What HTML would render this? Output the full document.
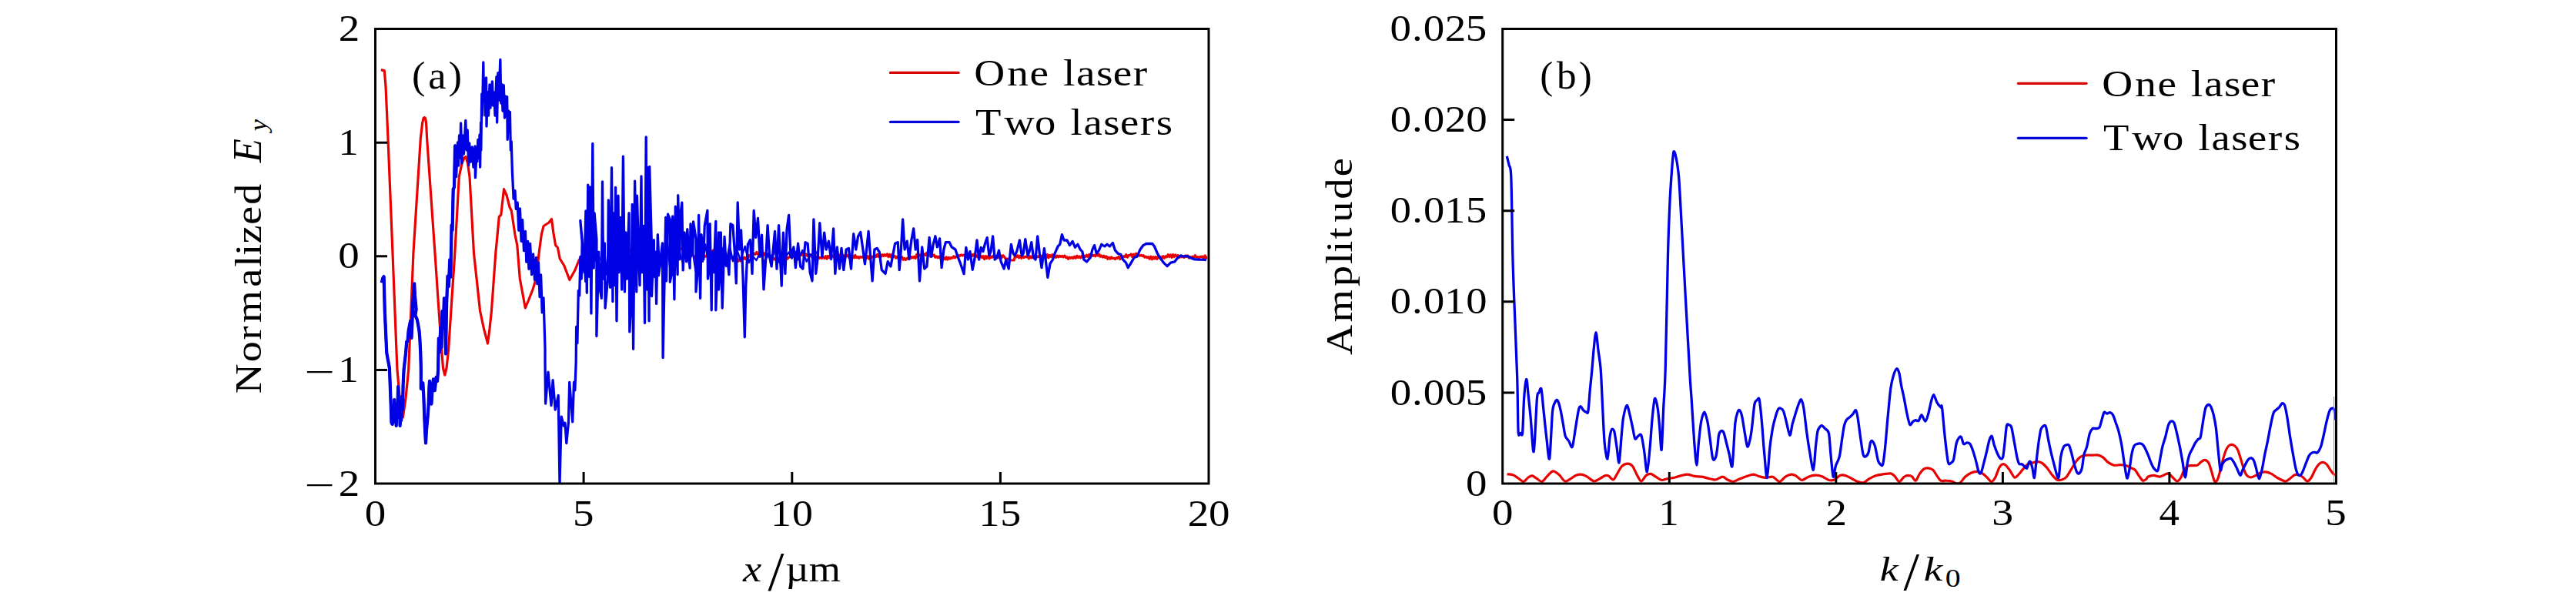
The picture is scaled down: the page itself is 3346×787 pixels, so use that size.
<!DOCTYPE html>
<html lang="en"><head><meta charset="utf-8"><title>Figure</title>
<style>html,body{margin:0;padding:0;background:#fff;overflow:hidden}svg{display:block}text{font-family:"Liberation Serif",serif;fill:#000}</style></head><body>
<svg width="3346" height="787" viewBox="0 0 3346 787">
<rect width="3346" height="787" fill="#fff"/>
<clipPath id="ca"><rect x="489" y="39" width="1079.5" height="589"/></clipPath>
<filter id="bl" x="-2%" y="-2%" width="104%" height="104%"><feGaussianBlur stdDeviation="0.6"/></filter>
<g clip-path="url(#ca)"><g filter="url(#bl)">
<path d="M494.9 90.6 L499.3 91.9 L501.0 112.0 L504.0 180.0 L510.0 329.0 L515.9 479.0 L519.5 520.0 L523.3 541.9 L527.0 517.0 L530.7 480.0 L536.9 329.0 L546.3 180.0 L548.6 160.0 L550.0 153.5 L551.3 152.5 L552.6 153.5 L553.6 160.0 L554.6 180.0 L565.0 329.0 L572.5 440.0 L575.5 478.0 L577.8 487.0 L580.0 478.0 L582.5 455.0 L590.8 329.0 L596.3 229.5 L600.0 212.0 L603.0 205.0 L605.0 203.5 L607.5 212.0 L610.0 229.5 L615.5 329.0 L623.6 404.0 L628.5 427.0 L633.5 446.0 L636.0 427.0 L638.4 404.0 L643.8 329.0 L648.3 281.5 L650.8 279.0 L654.5 245.6 L658.2 254.0 L662.0 269.0 L664.4 274.0 L669.0 305.0 L671.8 318.6 L675.3 362.0 L679.0 382.0 L682.3 400.0 L686.5 390.0 L692.0 376.0 L696.3 362.0 L700.5 325.6 L703.3 304.7 L706.1 293.5 L713.0 289.0 L716.5 284.5 L718.8 302.0 L721.6 318.5 L724.4 321.5 L727.2 336.0 L732.8 345.0 L739.8 363.5 L746.8 351.0 L752.0 338.0 L757.0 330.0 L763.0 322.0 L769.0 318.0 L774.0 326.0 L779.0 336.0 L785.0 341.0 L790.0 344.0 L796.0 340.0 L802.0 334.0 L808.0 328.0 L815.0 324.0 L822.0 326.0 L829.0 332.0 L836.0 338.0 L843.0 340.0 L850.0 338.0 L857.0 334.0 L864.0 330.0 L872.0 326.0 L880.0 324.0 L888.6 322.0 L895.0 328.0 L903.0 334.0 L910.0 336.0 L918.0 332.0 L926.5 325.0 L934.0 330.0 L942.0 335.0 L946.0 333.7 L947.6 333.4 L949.2 335.8 L950.8 333.3 L952.4 336.3 L954.0 335.0 L955.6 338.3 L957.2 335.7 L958.8 339.3 L960.4 336.6 L962.0 339.0 L963.6 336.8 L965.2 336.9 L966.8 334.3 L968.4 336.2 L970.0 333.9 L971.6 334.8 L973.2 331.4 L974.8 333.7 L976.4 329.8 L978.0 331.6 L979.6 329.1 L981.2 330.2 L982.8 327.5 L984.4 330.1 L986.0 328.6 L987.6 329.9 L989.2 327.0 L990.8 329.7 L992.4 328.9 L994.0 332.0 L995.6 330.1 L997.2 333.0 L998.8 331.6 L1000.4 334.7 L1002.0 332.0 L1003.6 336.9 L1005.2 335.2 L1006.8 337.3 L1008.4 334.6 L1010.0 337.2 L1011.6 334.9 L1013.2 337.5 L1014.8 335.3 L1016.4 337.2 L1018.0 335.0 L1019.6 338.2 L1021.2 334.0 L1022.8 336.2 L1024.4 334.2 L1026.0 334.0 L1027.6 331.3 L1029.2 333.5 L1030.8 329.8 L1032.4 332.4 L1034.0 330.4 L1035.6 332.0 L1037.2 330.1 L1038.8 332.6 L1040.4 329.6 L1042.0 331.5 L1043.6 328.7 L1045.2 331.0 L1046.8 330.0 L1048.4 332.2 L1050.0 330.4 L1051.6 332.9 L1053.2 330.6 L1054.8 334.4 L1056.4 332.2 L1058.0 334.6 L1059.6 333.3 L1061.2 335.6 L1062.8 333.1 L1064.4 335.4 L1066.0 334.5 L1067.6 335.5 L1069.2 333.8 L1070.8 335.3 L1072.4 332.7 L1074.0 336.2 L1075.6 332.4 L1077.2 334.6 L1078.8 332.1 L1080.4 333.9 L1082.0 332.0 L1083.6 335.0 L1085.2 331.9 L1086.8 333.3 L1088.4 331.5 L1090.0 332.6 L1091.6 330.6 L1093.2 334.4 L1094.8 331.5 L1096.4 334.3 L1098.0 331.1 L1099.6 332.9 L1101.2 331.3 L1102.8 334.6 L1104.4 331.7 L1106.0 333.6 L1107.6 332.4 L1109.2 334.9 L1110.8 331.4 L1112.4 334.7 L1114.0 333.5 L1115.6 335.3 L1117.2 333.4 L1118.8 334.2 L1120.4 333.3 L1122.0 334.9 L1123.6 333.6 L1125.2 335.0 L1126.8 332.6 L1128.4 336.1 L1130.0 332.2 L1131.6 335.1 L1133.2 333.1 L1134.8 333.8 L1136.4 331.3 L1138.0 333.5 L1139.6 330.3 L1141.2 333.2 L1142.8 330.7 L1144.4 333.4 L1146.0 330.6 L1147.6 332.5 L1149.2 330.6 L1150.8 332.2 L1152.4 329.9 L1154.0 333.5 L1155.6 330.5 L1157.2 333.8 L1158.8 330.5 L1160.4 333.3 L1162.0 332.5 L1163.6 335.1 L1165.2 333.5 L1166.8 335.7 L1168.4 333.3 L1170.0 336.1 L1171.6 333.6 L1173.2 337.4 L1174.8 335.4 L1176.4 337.4 L1178.0 335.4 L1179.6 335.9 L1181.2 333.5 L1182.8 335.5 L1184.4 333.5 L1186.0 334.9 L1187.6 333.1 L1189.2 335.5 L1190.8 330.5 L1192.4 333.2 L1194.0 331.0 L1195.6 331.8 L1197.2 329.9 L1198.8 331.0 L1200.4 330.0 L1202.0 331.5 L1203.6 328.4 L1205.2 331.8 L1206.8 328.1 L1208.4 333.0 L1210.0 329.5 L1211.6 332.3 L1213.2 330.9 L1214.8 334.2 L1216.4 332.9 L1218.0 334.8 L1219.6 333.1 L1221.2 334.9 L1222.8 334.5 L1224.4 336.5 L1226.0 334.7 L1227.6 336.9 L1229.2 333.8 L1230.8 337.0 L1232.4 334.4 L1234.0 336.1 L1235.6 334.5 L1237.2 335.2 L1238.8 332.9 L1240.4 334.7 L1242.0 333.1 L1243.6 333.9 L1245.2 331.6 L1246.8 332.4 L1248.4 330.9 L1250.0 332.0 L1251.6 331.1 L1253.2 332.7 L1254.8 329.3 L1256.4 331.9 L1258.0 329.6 L1259.6 332.3 L1261.2 330.3 L1262.8 332.4 L1264.4 330.3 L1266.0 332.9 L1267.6 331.3 L1269.2 333.7 L1270.8 332.6 L1272.4 334.2 L1274.0 332.4 L1275.6 334.7 L1277.2 332.4 L1278.8 336.7 L1280.4 332.6 L1282.0 335.4 L1283.6 332.7 L1285.2 335.8 L1286.8 332.8 L1288.4 334.4 L1290.0 332.3 L1291.6 333.9 L1293.2 332.5 L1294.8 334.9 L1296.4 332.4 L1298.0 335.1 L1299.6 331.7 L1301.2 334.5 L1302.8 331.7 L1304.4 333.2 L1306.0 336.0 L1307.6 336.0 L1309.2 336.0 L1310.8 337.5 L1312.4 337.5 L1314.0 338.0 L1315.6 338.0 L1317.2 338.0 L1318.8 331.1 L1320.4 333.7 L1322.0 331.8 L1323.6 334.8 L1325.2 332.5 L1326.8 335.3 L1328.4 332.2 L1330.0 334.6 L1331.6 333.1 L1333.2 333.8 L1334.8 333.2 L1336.4 335.8 L1338.0 332.6 L1339.6 335.0 L1341.2 332.8 L1342.8 334.7 L1344.4 332.0 L1346.0 334.9 L1347.6 332.8 L1349.2 333.5 L1350.8 332.2 L1352.4 334.4 L1354.0 331.9 L1355.6 333.7 L1357.2 332.6 L1358.8 335.2 L1360.4 330.6 L1362.0 334.8 L1363.6 331.4 L1365.2 333.6 L1366.8 330.7 L1368.4 333.0 L1370.0 332.5 L1371.6 334.4 L1373.2 332.0 L1374.8 333.9 L1376.4 332.2 L1378.0 333.5 L1379.6 332.3 L1381.2 333.9 L1382.8 331.9 L1384.4 334.5 L1386.0 333.9 L1387.6 336.4 L1389.2 334.1 L1390.8 335.3 L1392.4 334.1 L1394.0 335.4 L1395.6 333.3 L1397.2 335.2 L1398.8 332.2 L1400.4 334.5 L1402.0 332.9 L1403.6 334.9 L1405.2 332.4 L1406.8 334.7 L1408.4 332.2 L1410.0 333.5 L1411.6 331.3 L1413.2 333.6 L1414.8 330.5 L1416.4 333.0 L1418.0 330.3 L1419.6 332.4 L1421.2 331.3 L1422.8 332.7 L1424.4 330.7 L1426.0 332.1 L1427.6 330.0 L1429.2 333.4 L1430.8 331.9 L1432.4 334.0 L1434.0 332.3 L1435.6 334.5 L1437.2 332.9 L1438.8 336.3 L1440.4 334.3 L1442.0 336.2 L1443.6 334.0 L1445.2 335.5 L1446.8 335.3 L1448.4 336.6 L1450.0 334.8 L1451.6 335.4 L1453.2 333.3 L1454.8 336.6 L1456.4 333.9 L1458.0 334.1 L1459.6 332.7 L1461.2 333.6 L1462.8 330.6 L1464.4 334.2 L1466.0 331.7 L1467.6 331.7 L1469.2 330.0 L1470.8 333.5 L1472.4 330.1 L1474.0 332.4 L1475.6 329.1 L1477.2 332.7 L1478.8 331.0 L1480.4 332.3 L1482.0 331.2 L1483.6 332.7 L1485.2 331.7 L1486.8 334.0 L1488.4 333.1 L1490.0 334.7 L1491.6 333.6 L1493.2 336.2 L1494.8 333.1 L1496.4 336.8 L1498.0 333.6 L1499.6 336.0 L1501.2 333.5 L1502.8 336.4 L1504.4 333.1 L1506.0 335.0 L1507.6 333.4 L1509.2 335.7 L1510.8 332.7 L1512.4 335.2 L1514.0 332.8 L1515.6 333.9 L1517.2 330.7 L1518.8 333.5 L1520.4 330.9 L1522.0 334.3 L1523.6 330.6 L1525.2 333.5 L1526.8 331.0 L1528.4 332.7 L1530.0 331.6 L1531.6 334.7 L1533.2 332.4 L1534.8 333.8 L1536.4 332.6 L1538.0 334.4 L1539.6 331.9 L1541.2 333.4 L1542.8 331.9 L1544.4 335.1 L1546.0 333.4 L1547.6 334.8 L1549.2 333.1 L1550.8 334.0 L1552.4 331.8 L1554.0 334.1 L1555.6 333.6 L1557.2 334.9 L1558.8 333.3 L1560.4 333.4 L1562.0 333.2 L1563.6 335.4 L1565.2 332.0 L1566.8 335.4 L1568.5 333.6" fill="none" stroke="#ea0000" stroke-width="3.2" stroke-linejoin="round" stroke-linecap="butt"/>
<path d="M757.0 314.7 L760.3 365.9 L763.4 313.5 L766.8 343.3 L770.0 310.8 L773.7 339.2 L776.6 327.2 L780.2 358.4 L782.7 303.8 L786.7 357.0 L790.0 324.9 L792.5 353.3 L795.0 323.9 L797.8 335.5 L800.9 317.1 L804.6 352.3 L808.1 316.0 L811.5 350.3 L814.4 306.1 L818.4 359.0 L821.9 321.1 L824.7 344.9 L827.2 311.5 L830.2 358.1 L833.2 308.4 L837.0 332.9 L839.7 309.7 L842.9 359.7 L845.9 328.9 L849.3 355.2 L852.2 328.5 L855.8 358.2 L860.3 327.6 L863.8 337.9 L866.9 313.7 L870.3 349.3 L874.2 325.9 L878.7 338.5 L882.9 328.1 L886.8 340.6 L890.3 312.8 L894.9 342.5 L899.7 326.2 L903.5 352.2 L907.8 329.0 L912.8 339.8 L916.3 317.5 L919.9 341.4 L923.1 329.5 L927.2 340.0 L931.4 324.3 L935.4 351.0 L939.3 321.7 L944.1 338.2 L947.4 318.1 L952.0 339.3 L956.0 320.6 L961.8 338.0 L967.7 319.9 L972.7 341.1 L976.5 331.4 L982.4 338.0 L987.6 328.0 L993.2 342.1 L997.4 329.3 L1002.7 334.7 L1006.8 325.6 L1012.4 341.0 L1016.6 323.4 L1020.6 333.4 L1024.8 327.5 L1028.5 335.7 L1032.9 326.9 L1036.7 337.3 L1042.4 324.9 L1047.6 339.7 L1052.5 330.7 L1056.1 333.3 L1061.9 326.5" fill="none" stroke="#0000e4" stroke-width="2.4" stroke-linejoin="round" stroke-linecap="butt"/>
<path d="M498.6 358.5 L499.8 404.3 L502.3 458.7 L506.0 478.5 L506.0 480.0 L507.5 520.0 L508.5 549.0 L509.7 551.0 L510.5 530.0 L511.3 548.0 L512.2 519.0 L513.0 545.0 L513.8 528.0 L514.7 553.0 L515.5 525.0 L516.3 542.0 L516.7 519.0 L517.1 502.0 L517.5 525.9 L517.9 540.0 L518.7 520.0 L519.2 531.8 L519.6 553.0 L520.0 544.6 L520.4 528.0 L521.2 546.0 L521.6 527.3 L522.0 515.0 L522.8 532.0 L523.2 521.3 L523.6 500.0 L524.6 480.0 L527.0 458.7 L528.3 443.5 L529.5 443.2 L530.7 429.0 L533.2 416.6 L533.8 423.6 L534.5 438.9 L535.4 418.6 L536.4 391.9 L537.3 377.7 L538.2 368.4 L538.9 383.9 L539.7 391.9 L540.6 401.8 L539.4 409.2 L541.9 415.4 L544.4 429.0 L545.3 439.4 L546.3 458.7 L546.8 478.5 L546.8 494.3 L546.8 504.8 L549.3 497.3 L550.3 514.3 L551.3 541.9 L552.2 561.8 L553.0 575.3 L553.9 559.1 L554.8 549.3 L555.7 539.5 L556.7 524.6 L557.4 503.7 L558.0 494.9 L559.2 514.8 L560.4 524.6 L561.7 502.9 L562.9 492.4 L564.7 507.2 L566.6 489.9 L568.1 494.9 L569.1 480.0 L569.8 439.5 L570.9 457.3 L572.3 425.0 L573.5 451.1 L574.5 404.1 L575.8 425.8 L576.9 387.3 L578.1 412.8 L579.0 459.5 L580.1 394.9 L581.5 358.5 L582.9 371.8 L584.2 337.3 L585.3 359.8 L586.6 292.3 L587.6 298.9 L588.7 245.6 L590.0 243.0 L591.1 188.7" fill="none" stroke="#0000e4" stroke-width="4.2" stroke-linejoin="round" stroke-linecap="butt"/>
<path d="M495.3 367.1 L496.8 360.9 L498.6 358.5 L499.8 404.3 L502.3 458.7 L506.0 478.5 L506.0 480.0 L507.5 520.0 L508.5 549.0 L509.7 551.0 L510.5 530.0 L511.3 548.0 L512.2 519.0 L513.0 545.0 L513.8 528.0 L514.7 553.0 L515.5 525.0 L516.3 542.0 L516.7 519.0 L517.1 502.0 L517.5 525.9 L517.9 540.0 L518.7 520.0 L519.2 531.8 L519.6 553.0 L520.0 544.6 L520.4 528.0 L521.2 546.0 L521.6 527.3 L522.0 515.0 L522.8 532.0 L523.2 521.3 L523.6 500.0 L524.6 480.0 L527.0 458.7 L528.3 443.5 L529.5 443.2 L530.7 429.0 L533.2 416.6 L533.8 423.6 L534.5 438.9 L535.4 418.6 L536.4 391.9 L537.3 377.7 L538.2 368.4 L538.9 383.9 L539.7 391.9 L540.6 401.8 L539.4 409.2 L541.9 415.4 L544.4 429.0 L545.3 439.4 L546.3 458.7 L546.8 478.5 L546.8 494.3 L546.8 504.8 L549.3 497.3 L550.3 514.3 L551.3 541.9 L552.2 561.8 L553.0 575.3 L553.9 559.1 L554.8 549.3 L555.7 539.5 L556.7 524.6 L557.4 503.7 L558.0 494.9 L559.2 514.8 L560.4 524.6 L561.7 502.9 L562.9 492.4 L564.7 507.2 L566.6 489.9 L568.1 494.9 L569.1 480.0 L569.8 439.5 L570.9 457.3 L572.3 425.0 L573.5 451.1 L574.5 404.1 L575.8 425.8 L576.9 387.3 L578.1 412.8 L579.0 459.5 L580.1 394.9 L581.5 358.5 L582.9 371.8 L584.2 337.3 L585.3 359.8 L586.6 292.3 L587.6 298.9 L588.7 245.6 L590.0 243.0 L591.1 188.7 L592.6 229.5 L594.5 185.0 L595.5 215.0 L596.5 176.0 L597.5 205.0 L598.6 160.0 L599.8 212.0 L601.0 176.0 L602.5 200.0 L604.8 156.5 L606.2 195.0 L607.2 169.0 L608.7 214.6 L609.7 186.0 L611.5 210.0 L613.4 191.0 L614.9 217.0 L617.1 190.0 L617.4 230.7 L619.0 200.0 L619.8 209.7 L620.8 181.3 L622.0 205.0 L623.0 175.0 L623.6 217.0 L624.6 159.0 L624.8 195.0 L625.8 122.0 L626.5 150.0 L627.8 81.0 L628.5 130.0 L629.5 102.0 L630.5 150.0 L631.5 101.0 L632.0 164.0 L633.2 119.4 L634.5 150.0 L636.0 110.0 L637.0 140.0 L639.4 105.8 L640.5 137.0 L642.0 120.0 L643.0 150.0 L644.9 99.6 L645.6 159.0 L646.8 94.7 L648.0 130.0 L649.8 77.3 L650.8 134.0 L651.8 109.5 L653.0 144.0 L654.3 110.7 L655.5 153.0 L656.5 125.0 L657.5 150.0 L658.7 125.6 L659.2 181.3 L660.5 144.0 L661.5 170.0 L662.4 145.4 L663.3 195.0 L664.2 183.8 L665.4 222.9 L667.1 258.2 L668.9 247.6 L670.3 271.4 L672.2 263.2 L673.8 299.1 L675.4 270.9 L677.1 313.3 L678.6 285.5 L680.5 325.6 L682.4 300.4 L683.8 340.2 L685.6 313.5 L686.9 349.3 L688.6 316.3 L690.6 356.6 L692.6 329.9 L694.5 363.4 L696.5 334.3 L697.9 368.6 L699.4 340.9 L701.1 385.5 L702.6 357.0 L704.2 405.9 L706.0 386.8 L708.0 452.9 L708.0 470.0 L708.6 524.1 L712.0 483.2 L716.0 526.7 L718.1 493.7 L721.2 532.0 L725.2 513.5 L727.0 628.3 L729.2 541.2 L732.3 553.1 L733.9 549.2 L735.8 575.5 L738.4 549.2 L739.7 496.4 L741.8 522.8 L743.7 547.8 L745.5 496.4 L746.8 506.9 L748.2 470.0 L748.6 424.4 L749.9 445.5 L751.3 377.3 L752.7 384.0 L753.9 333.4 L755.2 362.0 L756.2 311.9 L753.8 286.5 L756.7 321.6 L758.9 353.7 L760.9 273.8 L762.3 380.3 L763.7 240.2 L765.1 359.3 L766.5 243.0 L767.9 407.0 L769.8 186.3 L771.2 348.1 L772.1 276.7 L774.9 310.3 L774.9 436.5 L777.7 327.2 L778.5 370.5 L781.3 387.4 L782.5 236.0 L783.6 362.1 L785.3 315.9 L786.1 400.0 L789.5 362.1 L790.3 259.8 L792.6 373.3 L794.5 217.7 L795.9 391.6 L796.5 276.7 L798.5 370.5 L799.6 243.5 L801.0 416.8 L803.0 254.2 L803.8 353.7 L805.8 282.3 L807.7 376.1 L809.4 203.1 L811.4 378.9 L812.8 301.9 L814.2 362.1 L817.0 276.7 L817.8 430.9 L820.1 390.2 L821.2 265.4 L822.6 453.3 L824.6 235.1 L826.8 378.9 L827.4 254.2 L831.0 370.5 L833.0 228.9 L833.8 353.7 L835.8 293.5 L837.5 419.6 L839.2 177.9 L840.3 376.1 L841.4 217.7 L843.1 416.8 L843.7 216.3 L846.5 321.6 L846.5 384.6 L849.3 311.7 L849.8 359.3 L851.5 327.2 L852.6 394.4 L854.3 304.7 L856.3 348.1 L860.5 315.9 L861.1 464.5 L864.7 282.3 L865.5 364.9 L867.5 278.1 L870.3 285.1 L870.3 366.3 L873.1 350.9 L873.7 280.9 L875.9 388.8 L877.3 268.2 L880.1 356.5 L880.7 253.6 L882.9 336.8 L883.5 282.3 L885.8 263.2 L887.2 350.9 L889.1 301.9 L891.4 339.6 L892.8 297.7 L896.1 348.1 L897.0 290.7 L899.8 328.4 L900.6 287.9 L904.0 310.3 L904.0 378.9 L906.8 345.3 L907.6 279.5 L909.6 387.4 L911.0 304.7 L913.8 336.8 L915.2 293.5 L918.9 273.3 L919.4 362.1 L921.7 342.5 L922.2 290.7 L924.2 402.8 L925.0 327.2 L927.0 353.7 L929.8 287.3 L929.8 402.8 L933.5 301.9 L933.5 376.1 L935.7 348.1 L936.3 301.9 L938.2 400.0 L941.0 307.5 L943.3 345.3 L944.7 332.8 L946.9 356.5 L948.9 290.7 L951.9 292.7 L954.1 324.0 L956.3 367.9 L958.2 262.9 L960.4 324.0 L962.6 299.0 L965.1 361.7 L967.3 437.8 L968.8 371.1 L971.3 317.8 L974.5 311.5 L977.0 355.4 L979.2 273.3 L981.7 308.4 L984.5 283.3 L987.0 333.4 L989.5 305.2 L992.0 375.8 L994.9 333.4 L997.1 292.7 L999.6 333.4 L1002.1 346.0 L1004.3 324.0 L1006.5 300.5 L1009.0 349.1 L1011.5 292.7 L1015.2 371.1 L1017.4 302.1 L1019.9 355.4 L1022.1 297.4 L1024.6 279.5 L1027.1 333.4 L1030.9 320.9 L1033.4 347.6 L1036.6 316.2 L1039.7 346.0 L1042.8 349.1 L1046.0 314.6 L1049.1 316.2 L1052.2 353.8 L1055.0 364.8 L1056.9 284.9 L1059.7 355.4 L1062.3 333.4 L1064.8 289.6 L1067.9 333.4 L1070.7 302.1 L1073.2 324.0 L1076.4 313.1 L1079.5 336.6 L1082.6 296.8 L1084.8 355.4 L1087.3 320.9 L1090.5 349.1 L1093.0 322.5 L1095.8 350.7 L1099.2 324.0 L1102.4 322.5 L1105.5 349.1 L1108.7 303.7 L1111.8 324.0 L1114.6 306.8 L1117.7 301.5 L1120.9 324.0 L1123.4 342.9 L1125.6 324.0 L1128.1 300.5 L1130.6 333.4 L1133.1 364.8 L1135.9 324.0 L1139.1 322.5 L1142.2 327.2 L1145.3 350.7 L1150.0 355.4 L1153.2 339.7 L1156.9 346.0 L1159.4 333.4 L1162.6 316.2 L1166.3 314.6 L1168.2 350.7 L1170.4 324.0 L1172.6 284.9 L1175.1 324.0 L1178.2 313.1 L1180.8 336.6 L1183.9 311.5 L1186.7 296.8 L1189.2 324.0 L1191.7 311.5 L1194.5 364.8 L1197.7 320.9 L1200.8 349.1 L1203.9 346.0 L1207.1 308.4 L1209.6 333.4 L1212.1 317.8 L1214.9 306.8 L1217.4 320.9 L1220.6 309.9 L1223.1 347.6 L1225.9 324.0 L1228.4 314.6 L1233.1 314.6 L1236.2 320.9 L1240.9 324.0 L1244.1 333.4 L1247.2 341.3 L1252.1 355.6 L1254.8 321.3 L1257.4 337.1 L1260.0 326.6 L1263.2 350.3 L1265.8 337.1 L1269.0 312.0 L1271.6 337.1 L1274.3 321.3 L1276.9 326.6 L1279.6 316.0 L1282.2 308.6 L1284.8 331.8 L1287.0 326.6 L1289.6 306.8 L1292.2 337.1 L1294.9 334.5 L1297.5 325.2 L1300.2 339.8 L1304.1 349.0 L1306.8 337.1 L1310.2 349.0 L1313.4 317.3 L1316.0 329.2 L1318.1 331.8 L1320.7 326.6 L1324.4 312.0 L1327.1 331.8 L1329.2 329.2 L1331.8 310.7 L1335.0 331.8 L1337.1 326.6 L1339.8 314.7 L1342.4 334.5 L1345.0 337.1 L1347.7 306.8 L1350.3 329.2 L1353.0 347.7 L1356.4 322.6 L1360.9 360.3 L1364.0 342.4 L1367.5 337.1 L1370.1 329.2 L1374.1 320.0 L1376.7 317.3 L1379.4 304.6 L1382.0 312.0 L1386.0 312.0 L1389.4 318.6 L1393.1 313.4 L1396.5 321.3 L1399.9 317.3 L1403.1 323.9 L1405.8 326.6 L1407.9 337.1 L1411.6 339.8 L1416.3 334.5 L1419.0 323.9 L1421.6 318.6 L1424.2 329.2 L1427.4 325.2 L1430.8 317.3 L1434.8 320.0 L1438.0 317.3 L1441.4 320.0 L1445.4 315.5 L1448.5 325.2 L1452.0 329.2 L1455.9 330.5 L1458.6 337.1 L1462.5 341.1 L1465.2 347.7 L1468.6 342.4 L1473.1 334.5 L1477.0 333.2 L1481.0 323.9 L1485.0 318.6 L1488.9 316.5 L1496.8 316.5 L1499.5 320.0 L1503.4 329.2 L1507.4 335.8 L1511.4 341.1 L1516.1 345.6 L1520.6 341.1 L1525.9 339.8 L1529.8 334.5 L1533.8 331.8 L1537.8 333.2 L1541.7 332.4 L1545.7 334.5 L1551.0 336.6 L1556.2 337.1 L1561.5 337.1 L1566.8 337.6" fill="none" stroke="#0000e4" stroke-width="3.3" stroke-linejoin="round" stroke-linecap="butt"/>
</g></g>
<rect x="487.5" y="37.5" width="1082.5" height="590.5" fill="none" stroke="#000" stroke-width="3"/>
<path d="M487.5 185.2h15.5 M487.5 332.8h15.5 M487.5 480.4h15.5 M758.1 628.0v-15 M1028.8 628.0v-15 M1299.4 628.0v-15" stroke="#000" stroke-width="3" fill="none"/>
<text transform="translate(439.26 53.15) scale(0.5499 0.4770)" x="0.8" y="0" font-size="100">2</text>
<text transform="translate(439.26 200.75) scale(0.5256 0.4770)" x="0.4" y="0" font-size="100">1</text>
<text transform="translate(439.26 348.35) scale(0.5495 0.4770)" x="0.2" y="0" font-size="100">0</text>
<text transform="translate(439.26 495.95) scale(0.5256 0.4770)" font-size="100"><tspan x="-82.7" y="5.6" textLength="75.0" lengthAdjust="spacingAndGlyphs">−</tspan><tspan x="0.4" y="0">1</tspan></text>
<text transform="translate(439.26 643.55) scale(0.5499 0.4770)" font-size="100"><tspan x="-79.0" y="5.6" textLength="71.7" lengthAdjust="spacingAndGlyphs">−</tspan><tspan x="0.8" y="0">2</tspan></text>
<text transform="translate(473.63 682.60) scale(0.5495 0.4770)" x="0.2" y="0" font-size="100">0</text>
<text transform="translate(744.26 682.60) scale(0.5499 0.4770)" x="-0.7" y="0" font-size="100">5</text>
<text transform="translate(1001.01 682.60) scale(0.5386 0.4770)" x="-0.2 52.2" y="0" font-size="100">10</text>
<text transform="translate(1271.64 682.60) scale(0.5385 0.4770)" x="-0.2 51.3" y="0" font-size="100">15</text>
<text transform="translate(1542.27 682.60) scale(0.5497 0.4770)" x="0.8 50.6" y="0" font-size="100">20</text>
<text transform="translate(532.10 114.60) scale(0.5254 0.5050)" x="5.6 45.9 96.0" y="0" font-size="100">(a)</text>
<path d="M1156.4 94.4H1245.1" stroke="#d80606" stroke-width="3.2" stroke-linecap="round"/>
<path d="M1156.4 158.3H1245.1" stroke="#0606d8" stroke-width="3.2" stroke-linecap="round"/>
<text transform="translate(1263.70 110.80) scale(0.5534 0.4860)" x="2.8 80.7 133.3 178.2 212.2 242.9 289.6 328.8 375.9" y="0" font-size="100">One laser</text>
<text transform="translate(1263.70 174.90) scale(0.5466 0.4860)" x="6.0 74.0 146.9 197.3 231.9 263.1 310.4 350.1 397.7 435.3" y="0" font-size="100">Two lasers</text>
<text><tspan x="965.08" y="755.00" font-size="48.91" font-style="italic" textLength="24.26" lengthAdjust="spacingAndGlyphs">x</tspan><tspan x="997.50" y="765.89" font-size="71.34" textLength="20.93" lengthAdjust="spacingAndGlyphs">/</tspan><tspan x="1020.28" y="754.63" font-size="48.79" textLength="71.59" lengthAdjust="spacingAndGlyphs">µm</tspan></text>
<text transform="translate(338.90 512.30) rotate(-90) scale(0.5406 0.4860)" x="2.1 77.6 131.0 172.1 258.1 306.2 334.1 362.2 408.1 456.1" y="0" font-size="100">Normalized</text>
<text transform="rotate(-90)"><tspan x="-211.36" y="338.80" font-size="51.91" font-style="italic" textLength="31.17" lengthAdjust="spacingAndGlyphs">E</tspan><tspan x="-170.18" y="345.79" font-size="32.15" font-style="italic" textLength="15.15" lengthAdjust="spacingAndGlyphs">y</tspan></text>
<clipPath id="cb"><rect x="1953.2" y="39" width="1079.8" height="589"/></clipPath>
<g clip-path="url(#cb)"><g filter="url(#bl)">
<path d="M1957.6 615.9C1958.6 616.0 1963.1 616.0 1965.1 616.7C1967.1 617.3 1969.4 619.2 1971.4 620.5C1973.3 621.7 1976.9 625.5 1978.9 625.5C1980.8 625.4 1983.5 621.0 1985.1 620.0C1986.8 618.9 1988.6 617.7 1990.2 617.9C1991.8 618.2 1994.6 620.6 1996.4 621.7C1998.2 622.8 2000.9 625.8 2002.7 625.5C2004.5 625.1 2007.2 621.0 2009.0 619.2C2010.8 617.4 2013.8 613.9 2015.2 612.9C2016.7 611.9 2017.6 611.6 2019.0 612.2C2020.4 612.7 2023.3 614.9 2025.3 616.7C2027.2 618.5 2030.7 624.3 2032.8 625.0C2035.0 625.7 2038.4 622.8 2040.3 621.7C2042.3 620.6 2044.6 618.2 2046.6 617.4C2048.6 616.7 2052.0 615.9 2054.1 616.2C2056.3 616.4 2059.3 617.9 2061.6 619.2C2064.0 620.5 2068.1 624.6 2070.4 625.0C2072.8 625.3 2076.0 622.7 2077.9 621.7C2079.9 620.7 2082.6 618.5 2084.2 617.9C2085.8 617.4 2087.6 617.2 2089.2 617.9C2090.8 618.7 2093.9 623.3 2095.5 623.0C2097.1 622.6 2098.9 617.9 2100.5 615.4C2102.1 612.9 2104.8 607.3 2106.8 605.4C2108.8 603.5 2112.3 602.1 2114.3 602.1C2116.3 602.1 2118.8 603.2 2120.6 605.4C2122.4 607.7 2125.2 615.2 2126.9 617.9C2128.5 620.7 2130.3 625.0 2131.9 625.0C2133.5 624.9 2136.4 618.8 2138.1 617.4C2139.9 616.1 2142.6 615.2 2144.4 615.4C2146.2 615.7 2148.7 618.1 2150.7 619.2C2152.7 620.3 2156.1 623.1 2158.2 623.5C2160.4 623.8 2163.2 622.2 2165.7 621.7C2168.2 621.2 2173.1 620.6 2175.8 620.0C2178.5 619.3 2182.2 618.0 2184.5 617.4C2186.9 616.9 2189.7 616.0 2192.1 616.2C2194.4 616.3 2198.2 618.0 2200.8 618.4C2203.5 618.9 2208.0 618.7 2210.9 619.2C2213.7 619.7 2218.4 621.2 2220.9 621.7C2223.4 622.2 2226.1 623.3 2228.4 623.0C2230.8 622.6 2235.3 619.2 2237.5 619.2C2239.7 619.2 2241.8 622.1 2243.8 623.0C2245.8 623.9 2249.0 625.7 2251.3 625.5C2253.6 625.3 2257.6 622.7 2260.1 621.7C2262.6 620.7 2266.4 619.2 2268.9 618.4C2271.4 617.7 2275.3 616.2 2277.7 616.2C2280.0 616.2 2282.9 618.1 2285.2 618.7C2287.5 619.3 2291.4 620.4 2294.0 620.5C2296.5 620.5 2300.2 618.5 2302.7 619.2C2305.2 619.9 2309.2 625.5 2311.5 625.5C2313.8 625.5 2316.9 620.5 2319.0 619.2C2321.2 617.9 2324.6 616.4 2326.6 616.2C2328.5 616.0 2330.9 616.9 2332.8 617.9C2334.8 619.0 2338.0 623.3 2340.4 623.5C2342.7 623.6 2346.6 620.1 2349.1 619.2C2351.6 618.3 2355.4 617.3 2357.9 617.2C2360.4 617.1 2364.2 617.8 2366.7 618.7C2369.2 619.6 2373.1 622.9 2375.5 623.5C2377.8 624.1 2380.8 623.9 2383.0 623.0C2385.1 622.1 2388.4 617.9 2390.5 617.2C2392.7 616.5 2395.9 617.3 2398.0 617.9C2400.2 618.6 2403.4 620.6 2405.6 621.7C2407.7 622.8 2410.9 624.8 2413.1 625.5C2415.2 626.2 2418.5 627.3 2420.6 626.7C2422.8 626.2 2426.0 623.0 2428.1 621.7C2430.3 620.5 2433.2 618.8 2435.7 617.9C2438.2 617.1 2442.8 616.4 2445.7 615.9C2448.6 615.5 2453.6 614.7 2455.7 614.9C2457.9 615.2 2459.1 616.4 2460.7 617.9C2462.4 619.5 2465.2 625.3 2467.0 625.5C2468.8 625.7 2471.7 620.3 2473.3 619.2C2474.9 618.1 2476.9 617.5 2478.3 617.4C2479.7 617.4 2481.9 617.7 2483.3 618.7C2484.8 619.7 2486.9 624.7 2488.3 624.2C2489.8 623.8 2491.7 617.7 2493.4 615.4C2495.0 613.2 2498.0 609.7 2499.6 608.7C2501.2 607.6 2503.0 607.7 2504.6 607.9C2506.3 608.2 2509.3 609.0 2510.9 610.4C2512.5 611.9 2514.5 616.0 2515.9 617.9C2517.4 619.9 2519.3 623.3 2520.9 624.2C2522.6 625.1 2525.5 624.1 2527.5 624.2C2529.5 624.3 2533.1 624.4 2535.0 625.0C2537.0 625.5 2539.7 627.7 2541.3 628.0C2542.9 628.2 2544.7 628.0 2546.3 626.7C2547.9 625.5 2550.6 621.0 2552.6 619.2C2554.6 617.4 2558.0 615.2 2560.1 614.2C2562.3 613.2 2565.7 612.4 2567.7 612.4C2569.6 612.4 2572.1 613.2 2573.9 614.2C2575.7 615.2 2578.4 617.6 2580.2 619.2C2582.0 620.8 2584.9 625.3 2586.5 625.5C2588.1 625.7 2590.0 623.0 2591.5 620.5C2592.9 617.9 2595.2 610.4 2596.5 607.9C2597.8 605.4 2599.5 603.4 2600.8 602.9C2602.0 602.4 2603.9 603.1 2605.3 604.2C2606.6 605.2 2608.7 608.2 2610.3 610.4C2611.9 612.7 2615.0 619.1 2616.6 620.0C2618.2 620.9 2620.0 618.2 2621.6 616.7C2623.2 615.2 2626.1 611.1 2627.9 609.2C2629.6 607.2 2632.3 604.1 2634.1 602.9C2635.9 601.7 2638.4 601.4 2640.4 600.9C2642.4 600.4 2646.1 599.5 2647.9 599.6C2649.7 599.7 2651.3 600.5 2652.9 601.6C2654.5 602.8 2657.4 605.8 2659.2 607.9C2661.0 610.1 2663.7 614.5 2665.5 616.7C2667.3 618.8 2670.0 622.1 2671.7 623.0C2673.5 623.9 2676.2 623.5 2678.0 623.0C2679.8 622.4 2682.5 621.2 2684.3 619.2C2686.1 617.2 2688.8 612.0 2690.6 609.2C2692.3 606.3 2695.0 601.5 2696.8 599.1C2698.6 596.8 2701.1 594.0 2703.1 592.9C2705.1 591.7 2708.5 591.4 2710.6 591.1C2712.8 590.9 2716.0 591.1 2718.1 591.1C2720.3 591.1 2723.7 590.7 2725.7 591.1C2727.6 591.5 2730.1 592.8 2731.9 594.1C2733.7 595.4 2736.2 599.0 2738.2 600.4C2740.2 601.8 2743.4 603.7 2745.7 604.2C2748.1 604.6 2752.2 603.6 2754.5 603.7C2756.8 603.7 2760.1 604.0 2762.0 604.7C2764.0 605.3 2766.7 607.1 2768.3 607.9C2769.9 608.7 2771.9 609.0 2773.3 610.4C2774.8 611.9 2776.9 616.0 2778.3 617.9C2779.8 619.9 2782.0 623.6 2783.4 624.2C2784.7 624.8 2786.9 622.9 2787.9 622.2C2788.8 621.5 2788.6 619.9 2790.0 619.2C2791.4 618.5 2795.4 617.4 2797.5 617.4C2799.7 617.4 2803.1 619.3 2805.0 619.2C2807.0 619.1 2809.7 617.3 2811.3 616.7C2812.9 616.1 2814.9 614.6 2816.3 614.9C2817.8 615.3 2819.7 617.8 2821.4 619.2C2823.0 620.6 2826.0 624.8 2827.6 625.0C2829.2 625.2 2831.4 622.4 2832.6 620.5C2833.9 618.6 2835.1 613.8 2836.4 611.7C2837.7 609.5 2839.8 606.4 2841.4 605.4C2843.0 604.4 2845.9 604.8 2847.7 604.7C2849.5 604.5 2852.3 604.8 2854.0 604.2C2855.6 603.5 2857.5 600.9 2859.0 599.9C2860.4 598.9 2862.6 597.1 2864.0 597.4C2865.4 597.6 2867.8 599.4 2869.0 601.6C2870.3 603.9 2871.7 609.6 2872.8 612.9C2873.8 616.3 2875.5 623.5 2876.5 625.0C2877.6 626.4 2879.2 625.0 2880.3 623.0C2881.4 620.9 2883.0 614.4 2884.1 610.4C2885.1 606.5 2886.7 599.1 2887.8 595.4C2888.9 591.6 2890.5 586.5 2891.6 584.1C2892.7 581.7 2894.3 579.5 2895.3 578.6C2896.4 577.6 2898.0 577.2 2899.1 577.3C2900.2 577.4 2901.8 578.1 2902.9 579.1C2903.9 580.0 2905.6 581.8 2906.6 584.1C2907.7 586.4 2909.3 592.0 2910.4 595.4C2911.5 598.8 2913.1 604.9 2914.2 607.9C2915.2 611.0 2916.7 615.0 2917.9 616.7C2919.2 618.4 2921.3 619.8 2922.9 620.0C2924.5 620.1 2927.4 618.8 2929.2 617.9C2931.0 617.1 2933.5 614.9 2935.5 614.2C2937.4 613.5 2940.8 612.8 2943.0 612.9C2945.1 613.1 2948.4 614.4 2950.5 615.4C2952.7 616.5 2955.9 619.2 2958.0 620.5C2960.2 621.7 2964.0 623.6 2965.6 624.2C2967.2 624.9 2968.1 625.3 2969.3 625.0C2970.6 624.6 2972.7 622.9 2974.3 621.7C2976.0 620.5 2979.0 617.4 2980.6 616.7C2982.2 616.0 2984.2 616.3 2985.6 616.7C2987.1 617.1 2989.0 618.0 2990.7 619.2C2992.3 620.4 2995.3 624.8 2996.9 625.0C2998.5 625.2 3000.5 622.5 3001.9 620.5C3003.4 618.4 3005.5 612.9 3007.0 610.4C3008.4 607.9 3010.5 604.3 3012.0 602.9C3013.4 601.5 3015.6 600.4 3017.0 600.4C3018.4 600.4 3020.6 601.5 3022.0 602.9C3023.4 604.3 3025.8 608.6 3027.0 610.4C3028.3 612.2 3029.9 614.5 3030.8 615.4C3031.7 616.3 3032.9 616.5 3033.3 616.7" fill="none" stroke="#ea0000" stroke-width="3.2" stroke-linejoin="round"/>
<path d="M1957.3 202.8C1957.7 204.4 1959.2 210.2 1960.0 214.0C1960.8 217.8 1962.1 212.9 1962.8 229.5C1963.5 246.1 1964.3 307.8 1964.8 330.0C1965.3 352.2 1965.8 362.1 1966.6 385.0C1967.4 407.9 1969.9 465.0 1970.7 490.0C1971.5 515.0 1971.5 549.9 1972.1 560.3C1972.7 570.6 1974.3 562.0 1975.1 562.3C1975.9 562.6 1977.0 568.6 1977.6 562.3C1978.3 555.9 1978.9 527.6 1979.6 517.6C1980.3 507.7 1981.9 493.3 1982.6 492.5C1983.4 491.8 1984.4 505.4 1985.1 512.6C1985.9 519.8 1987.2 532.1 1988.2 542.7C1989.2 553.3 1991.0 590.2 1992.2 586.6C1993.4 583.0 1995.5 528.6 1996.4 517.6C1997.4 506.7 1998.2 511.9 1998.9 510.1C1999.7 508.3 2001.1 502.2 2002.0 505.1C2002.8 507.9 2003.7 520.8 2004.7 530.2C2005.7 539.5 2007.8 561.0 2009.0 570.3C2010.1 579.6 2011.7 600.4 2012.7 595.4C2013.8 590.4 2015.5 545.6 2016.5 535.2C2017.5 524.8 2018.9 524.9 2019.8 522.6C2020.7 520.4 2021.8 518.6 2022.8 519.6C2023.7 520.7 2025.5 525.8 2026.5 530.2C2027.6 534.5 2029.3 545.0 2030.3 550.2C2031.3 555.4 2032.2 563.3 2033.3 566.5C2034.4 569.8 2036.5 570.8 2037.8 572.8C2039.1 574.8 2041.1 582.8 2042.3 580.3C2043.6 577.8 2045.4 562.1 2046.6 555.2C2047.7 548.4 2049.5 536.6 2050.4 532.7C2051.3 528.7 2052.0 527.7 2052.9 527.7C2053.8 527.7 2055.6 531.6 2056.6 532.7C2057.7 533.7 2059.5 535.0 2060.4 535.2C2061.3 535.4 2062.2 538.2 2062.9 533.9C2063.6 529.6 2064.7 512.8 2065.4 505.1C2066.1 497.4 2067.3 487.2 2067.9 480.0C2068.6 472.8 2069.3 461.9 2070.0 455.0C2070.7 448.1 2072.1 431.7 2073.0 431.7C2073.9 431.7 2075.1 448.1 2076.0 455.0C2076.9 461.9 2078.4 469.3 2079.2 480.0C2080.0 490.7 2081.0 516.5 2081.7 530.2C2082.4 543.8 2083.3 565.9 2084.2 575.3C2085.1 584.7 2087.0 597.0 2088.0 595.9C2088.9 594.8 2090.2 573.2 2091.0 567.8C2091.8 562.3 2092.7 558.8 2093.5 557.8C2094.3 556.7 2095.8 557.0 2096.8 560.3C2097.7 563.5 2099.1 574.5 2100.0 580.3C2100.9 586.1 2102.2 602.7 2103.0 600.9C2103.9 599.1 2105.3 576.1 2106.0 567.8C2106.8 559.5 2107.5 548.6 2108.5 542.7C2109.6 536.8 2111.9 527.1 2113.1 526.4C2114.2 525.7 2115.7 533.6 2116.8 537.7C2117.9 541.8 2119.6 550.7 2120.6 555.2C2121.6 559.8 2122.8 568.2 2123.8 569.8C2124.9 571.4 2126.5 567.2 2127.6 566.5C2128.8 565.9 2130.7 562.6 2131.9 565.3C2133.0 568.0 2134.6 578.5 2135.6 585.3C2136.7 592.2 2138.3 613.6 2139.4 612.9C2140.5 612.2 2142.2 590.4 2143.2 580.3C2144.1 570.3 2145.3 551.7 2146.2 542.7C2147.1 533.7 2148.4 519.4 2149.4 517.6C2150.4 515.8 2152.3 524.8 2153.2 530.2C2154.1 535.5 2155.0 547.5 2155.7 555.2C2156.4 562.9 2157.5 587.7 2158.2 584.1C2158.9 580.5 2160.0 545.0 2160.7 530.2C2161.4 515.3 2162.4 508.6 2163.2 480.0C2164.1 451.4 2165.7 361.2 2166.5 330.0C2167.3 298.8 2168.3 277.1 2169.0 261.7C2169.7 246.3 2170.8 231.2 2171.5 222.0C2172.2 212.8 2173.1 199.8 2173.9 197.3C2174.7 194.8 2176.1 200.2 2177.1 204.8C2178.1 209.4 2179.6 218.2 2180.6 229.5C2181.6 240.8 2183.0 269.6 2183.8 284.0C2184.6 298.4 2184.8 302.0 2186.3 330.0C2187.8 358.0 2193.0 453.2 2194.6 480.0C2196.1 506.8 2196.2 504.0 2197.1 517.6C2198.0 531.2 2199.9 562.9 2200.8 575.3C2201.8 587.7 2203.1 604.2 2203.9 604.2C2204.6 604.2 2205.5 583.4 2206.4 575.3C2207.2 567.2 2208.6 553.5 2209.6 547.7C2210.7 542.0 2212.7 535.2 2213.9 535.2C2215.1 535.2 2216.9 543.1 2217.9 547.7C2218.9 552.4 2219.9 561.0 2220.9 567.8C2221.9 574.6 2223.6 591.6 2224.7 595.4C2225.8 599.1 2227.5 596.3 2228.4 594.1C2229.3 592.0 2230.4 584.4 2230.9 580.3C2231.5 576.2 2231.9 568.2 2232.5 565.3C2233.2 562.3 2234.6 560.3 2235.5 559.8C2236.4 559.2 2237.8 559.3 2238.8 561.5C2239.8 563.7 2241.5 571.2 2242.5 575.3C2243.6 579.4 2245.2 586.1 2246.3 590.4C2247.4 594.6 2249.0 610.6 2250.1 604.9C2251.1 599.2 2252.8 560.2 2253.8 550.2C2254.8 540.3 2256.3 537.7 2257.1 535.2C2257.9 532.7 2258.8 532.0 2259.6 532.7C2260.4 533.4 2261.6 535.9 2262.6 540.2C2263.6 544.5 2265.4 557.1 2266.4 562.8C2267.4 568.4 2268.7 578.4 2269.6 579.8C2270.5 581.3 2271.8 576.3 2272.6 572.8C2273.5 569.3 2274.8 562.1 2275.6 555.2C2276.5 548.4 2278.0 530.2 2278.9 525.1C2279.8 520.1 2281.3 520.5 2282.2 519.6C2283.1 518.7 2284.3 515.2 2285.2 518.9C2286.0 522.5 2287.3 535.7 2288.2 545.2C2289.1 554.7 2290.4 574.6 2291.4 585.3C2292.5 596.1 2294.1 621.2 2295.2 620.5C2296.3 619.7 2297.9 589.6 2299.0 580.3C2300.0 571.0 2301.7 561.0 2302.7 555.2C2303.8 549.5 2305.5 543.6 2306.5 540.2C2307.5 536.8 2308.9 532.9 2309.8 531.4C2310.7 530.0 2311.8 529.8 2312.8 530.2C2313.7 530.5 2315.5 531.4 2316.5 533.9C2317.6 536.4 2319.1 543.2 2320.3 547.7C2321.5 552.2 2323.7 564.9 2324.8 565.3C2326.0 565.6 2327.2 554.5 2328.3 550.2C2329.5 545.9 2331.7 538.9 2332.8 535.2C2334.0 531.4 2335.6 526.2 2336.6 523.9C2337.6 521.6 2338.7 518.0 2339.6 518.9C2340.5 519.8 2341.9 524.3 2342.9 530.2C2343.9 536.1 2345.6 552.4 2346.6 560.3C2347.7 568.1 2349.1 578.2 2350.4 585.3C2351.6 592.5 2354.3 611.1 2355.4 610.4C2356.6 609.7 2357.6 587.5 2358.4 580.3C2359.2 573.2 2360.1 564.0 2360.9 560.3C2361.7 556.5 2363.4 555.1 2364.2 554.0C2365.0 552.9 2365.8 552.4 2366.7 552.7C2367.6 553.1 2369.2 555.1 2370.5 556.5C2371.7 557.9 2374.4 557.9 2375.5 562.8C2376.5 567.6 2377.2 582.3 2378.0 590.4C2378.8 598.4 2380.3 617.1 2381.2 619.2C2382.1 621.4 2383.1 609.2 2384.3 605.4C2385.4 601.6 2388.0 598.2 2389.3 592.9C2390.5 587.5 2392.1 573.5 2393.0 567.8C2393.9 562.1 2394.7 556.0 2395.5 552.7C2396.3 549.5 2397.5 546.8 2398.5 545.2C2399.6 543.6 2401.9 542.5 2403.1 541.4C2404.2 540.4 2405.7 538.9 2406.8 537.7C2407.9 536.4 2409.7 532.0 2410.6 532.7C2411.5 533.4 2412.2 537.3 2413.1 542.7C2414.0 548.1 2415.9 563.5 2416.9 570.3C2417.9 577.1 2419.2 587.1 2420.1 590.4C2421.0 593.6 2422.2 593.2 2423.1 592.9C2424.1 592.5 2426.0 590.4 2426.9 587.9C2427.8 585.3 2428.7 577.5 2429.4 575.3C2430.1 573.2 2431.0 572.1 2431.9 572.8C2432.8 573.5 2434.6 576.7 2435.7 580.3C2436.7 583.9 2438.4 594.6 2439.4 597.9C2440.4 601.2 2441.8 602.7 2442.7 603.4C2443.6 604.1 2444.8 606.2 2445.7 602.9C2446.6 599.6 2447.8 588.9 2448.7 580.3C2449.6 571.7 2451.0 553.5 2452.0 542.7C2453.0 532.0 2454.7 513.0 2455.7 505.1C2456.8 497.2 2458.3 491.3 2459.5 487.5C2460.6 483.8 2462.7 479.1 2463.8 478.7C2464.8 478.4 2466.2 482.0 2467.0 485.0C2467.8 488.1 2468.6 495.4 2469.5 500.1C2470.4 504.7 2472.2 512.2 2473.3 517.6C2474.4 523.0 2476.0 532.9 2477.1 537.7C2478.1 542.5 2479.7 550.0 2480.8 551.5C2481.9 552.9 2483.5 548.5 2484.6 547.7C2485.7 546.9 2487.3 545.9 2488.3 545.7C2489.4 545.5 2491.0 547.4 2492.1 546.5C2493.2 545.5 2494.6 538.8 2495.9 538.9C2497.1 539.0 2499.6 547.4 2500.9 547.2C2502.1 547.0 2503.6 541.4 2504.6 537.7C2505.7 534.0 2507.4 525.0 2508.4 521.4C2509.4 517.8 2510.6 512.4 2511.7 512.6C2512.7 512.8 2514.6 520.3 2515.9 522.6C2517.3 525.0 2520.0 528.0 2520.9 528.9C2521.9 529.8 2521.7 523.4 2522.5 528.9C2523.3 534.5 2525.1 557.6 2526.3 567.8C2527.4 578.0 2529.4 595.7 2530.5 600.4C2531.7 605.1 2533.5 601.4 2534.5 600.9C2535.6 600.4 2536.6 600.3 2537.6 596.6C2538.5 593.0 2540.2 579.4 2541.3 575.3C2542.4 571.2 2544.2 568.9 2545.1 567.8C2546.0 566.7 2546.8 566.5 2547.6 567.8C2548.4 569.0 2549.5 575.6 2550.6 576.6C2551.7 577.6 2553.9 574.8 2555.1 574.8C2556.3 574.8 2557.8 575.1 2558.9 576.6C2560.0 578.1 2561.6 582.3 2562.6 585.3C2563.7 588.4 2565.3 593.9 2566.4 597.9C2567.5 601.8 2569.2 610.6 2570.2 612.9C2571.1 615.3 2572.3 615.6 2573.2 614.2C2574.1 612.8 2575.4 606.7 2576.4 602.9C2577.4 599.1 2579.1 592.3 2580.2 587.9C2581.3 583.4 2583.0 574.6 2584.0 571.5C2585.0 568.5 2586.3 565.6 2587.2 566.5C2588.1 567.4 2589.3 574.8 2590.2 577.8C2591.2 580.9 2592.9 585.4 2594.0 587.9C2595.1 590.3 2596.7 594.0 2597.8 594.9C2598.8 595.8 2600.6 596.9 2601.5 594.1C2602.4 591.3 2603.3 581.2 2604.0 575.3C2604.7 569.4 2605.7 556.1 2606.5 552.7C2607.4 549.4 2608.9 551.6 2609.8 552.0C2610.7 552.3 2611.8 551.9 2612.8 555.2C2613.8 558.6 2615.5 569.6 2616.6 575.3C2617.6 581.0 2619.4 591.5 2620.3 595.4C2621.2 599.2 2621.9 601.3 2622.8 602.4C2623.7 603.5 2625.5 602.3 2626.6 602.9C2627.7 603.5 2629.5 605.9 2630.4 606.7C2631.3 607.4 2632.2 608.8 2632.9 607.9C2633.6 607.0 2634.7 601.5 2635.4 600.4C2636.0 599.2 2636.7 598.8 2637.4 599.9C2638.0 601.0 2639.2 605.0 2639.9 607.9C2640.6 610.9 2641.7 621.5 2642.4 620.5C2643.1 619.4 2644.1 606.8 2644.9 600.4C2645.7 593.9 2647.1 581.4 2647.9 575.3C2648.8 569.2 2650.0 560.9 2650.9 557.8C2651.8 554.6 2653.3 553.8 2654.2 553.2C2655.1 552.7 2656.6 551.6 2657.4 554.0C2658.3 556.4 2659.5 565.5 2660.5 570.3C2661.4 575.1 2663.1 583.2 2664.2 587.9C2665.3 592.5 2666.9 598.8 2668.0 602.9C2669.1 607.0 2670.8 614.4 2671.7 616.7C2672.6 619.0 2673.5 622.6 2674.3 619.2C2675.0 615.8 2675.9 598.4 2676.8 592.9C2677.7 587.3 2679.4 582.5 2680.5 580.3C2681.6 578.2 2683.3 578.1 2684.3 577.8C2685.3 577.5 2686.6 576.9 2687.5 578.3C2688.4 579.8 2689.6 584.3 2690.6 587.9C2691.5 591.4 2693.3 599.3 2694.3 602.9C2695.3 606.5 2696.7 611.2 2697.6 612.9C2698.5 614.7 2699.6 615.7 2700.6 614.9C2701.6 614.2 2703.5 611.4 2704.3 607.9C2705.2 604.4 2706.0 594.3 2706.9 590.4C2707.8 586.4 2709.5 584.3 2710.6 580.3C2711.7 576.4 2713.3 566.2 2714.4 562.8C2715.5 559.4 2717.1 557.4 2718.1 556.5C2719.2 555.6 2720.7 556.7 2721.9 556.5C2723.2 556.3 2725.7 557.2 2726.9 555.2C2728.2 553.3 2729.8 545.6 2730.7 542.7C2731.6 539.8 2732.3 536.0 2733.2 535.2C2734.1 534.4 2735.9 537.1 2737.0 537.2C2738.0 537.3 2739.6 535.4 2740.7 535.7C2741.8 535.9 2743.4 537.0 2744.5 538.9C2745.6 540.8 2747.2 545.9 2748.2 549.0C2749.3 552.0 2750.9 556.1 2752.0 560.3C2753.1 564.4 2754.7 571.7 2755.8 577.8C2756.8 583.9 2758.5 596.7 2759.5 602.9C2760.5 609.1 2761.9 619.9 2762.8 621.0C2763.7 622.0 2764.9 614.8 2765.8 610.4C2766.7 606.1 2767.9 594.8 2768.8 590.4C2769.7 585.9 2771.1 581.0 2772.1 579.1C2773.1 577.1 2774.6 577.0 2775.8 576.6C2777.1 576.1 2779.6 575.7 2780.8 576.1C2782.1 576.4 2783.3 577.0 2784.6 579.1C2785.9 581.1 2788.7 587.3 2790.0 590.4C2791.3 593.4 2792.7 597.9 2793.8 600.4C2794.8 602.9 2796.3 606.3 2797.5 607.9C2798.8 609.5 2801.5 612.8 2802.5 611.7C2803.6 610.6 2804.2 604.9 2805.0 600.4C2805.9 595.9 2807.7 585.0 2808.8 580.3C2809.9 575.7 2811.5 571.7 2812.6 567.8C2813.6 563.8 2815.3 555.7 2816.3 552.7C2817.3 549.8 2818.5 547.8 2819.6 547.2C2820.7 546.7 2822.7 546.8 2823.9 549.0C2825.0 551.2 2826.5 558.3 2827.6 562.8C2828.7 567.2 2830.3 575.0 2831.4 580.3C2832.5 585.7 2834.1 594.7 2835.1 600.4C2836.1 606.1 2837.5 620.0 2838.4 620.0C2839.3 620.0 2840.6 604.6 2841.4 600.4C2842.2 596.2 2843.0 592.9 2843.9 590.4C2844.8 587.9 2846.6 585.0 2847.7 582.8C2848.8 580.7 2850.4 577.1 2851.4 575.3C2852.5 573.5 2854.2 571.4 2855.2 570.3C2856.2 569.2 2857.3 571.0 2858.2 567.8C2859.1 564.6 2860.6 553.1 2861.5 547.7C2862.4 542.3 2863.8 533.3 2864.7 530.2C2865.7 527.0 2867.3 526.0 2868.3 525.6C2869.2 525.3 2870.5 525.8 2871.5 527.7C2872.5 529.6 2874.3 535.0 2875.3 538.9C2876.2 542.9 2877.5 549.3 2878.3 555.2C2879.1 561.2 2880.0 572.4 2880.8 580.3C2881.6 588.2 2883.2 607.2 2884.1 610.4C2884.9 613.6 2885.7 604.7 2886.6 602.9C2887.5 601.1 2889.3 598.9 2890.3 597.9C2891.4 596.9 2893.0 596.5 2894.1 596.1C2895.2 595.8 2896.8 594.8 2897.9 595.4C2898.9 596.0 2900.5 598.6 2901.6 600.4C2902.7 602.2 2904.2 605.5 2905.4 607.9C2906.6 610.4 2908.8 617.1 2909.9 617.4C2911.0 617.8 2911.9 612.5 2912.9 610.4C2913.9 608.3 2915.6 604.9 2916.7 602.9C2917.7 600.9 2919.3 597.8 2920.4 596.6C2921.5 595.5 2923.2 594.7 2924.2 594.9C2925.2 595.1 2926.6 596.0 2927.4 597.9C2928.3 599.7 2929.5 604.5 2930.5 607.9C2931.4 611.3 2933.1 621.4 2934.2 621.7C2935.3 622.1 2936.9 614.9 2938.0 610.4C2939.1 605.9 2940.7 595.7 2941.7 590.4C2942.8 585.0 2944.4 578.2 2945.5 572.8C2946.6 567.4 2948.2 557.9 2949.3 552.7C2950.3 547.5 2952.1 539.3 2953.0 536.4C2954.0 533.6 2955.0 533.7 2956.0 532.7C2957.1 531.6 2959.4 530.2 2960.6 528.9C2961.7 527.7 2963.3 524.3 2964.3 523.9C2965.3 523.5 2966.7 524.1 2967.6 526.4C2968.5 528.7 2969.6 534.6 2970.6 540.2C2971.6 545.7 2973.3 558.5 2974.3 565.3C2975.4 572.1 2977.0 581.8 2978.1 587.9C2979.2 593.9 2980.9 603.8 2981.9 607.9C2982.9 612.0 2984.2 615.4 2985.1 616.7C2986.1 617.9 2987.7 617.6 2988.6 616.7C2989.6 615.8 2990.9 612.8 2991.9 610.4C2992.9 608.1 2994.6 603.1 2995.7 600.4C2996.7 597.7 2998.4 593.4 2999.4 591.6C3000.5 589.8 3002.1 588.5 3003.2 587.9C3004.3 587.2 3006.0 587.3 3007.0 587.3C3008.0 587.3 3009.1 588.9 3010.2 587.9C3011.3 586.8 3013.3 583.6 3014.5 580.3C3015.6 577.1 3017.2 569.9 3018.2 565.3C3019.3 560.6 3020.9 552.2 3022.0 547.7C3023.1 543.2 3024.7 536.4 3025.8 533.9C3026.8 531.4 3028.6 530.3 3029.5 530.2C3030.4 530.0 3031.5 530.5 3032.0 532.7C3032.6 534.8 3033.1 543.4 3033.3 545.2" fill="none" stroke="#0000e4" stroke-width="3.3" stroke-linejoin="round"/>
</g><path d="M3031.6 515V627" stroke="#999" stroke-width="1.2"/>
</g>
<rect x="1951.7" y="37.5" width="1082.8" height="590.5" fill="none" stroke="#000" stroke-width="3"/>
<path d="M1951.7 509.9h15.5 M2168.3 628.0v-15 M1951.7 391.8h15.5 M2384.8 628.0v-15 M1951.7 273.7h15.5 M2601.4 628.0v-15 M1951.7 155.6h15.5 M2817.9 628.0v-15" stroke="#000" stroke-width="3" fill="none"/>
<text transform="translate(1903.87 643.60) scale(0.5495 0.4770)" x="0.2" y="0" font-size="100">0</text>
<text transform="translate(1805.55 525.50) scale(0.5502 0.4770)" x="0.2 51.9 78.6 129.0 178.5" y="0" font-size="100">0.005</text>
<text transform="translate(1805.55 407.40) scale(0.5453 0.4770)" x="0.4 52.4 79.5 129.4 181.2" y="0" font-size="100">0.010</text>
<text transform="translate(1805.55 289.30) scale(0.5454 0.4770)" x="0.4 52.4 79.5 129.4 180.3" y="0" font-size="100">0.015</text>
<text transform="translate(1805.55 171.20) scale(0.5502 0.4770)" x="0.2 51.9 78.6 129.6 179.4" y="0" font-size="100">0.020</text>
<text transform="translate(1805.55 53.10) scale(0.5503 0.4770)" x="0.1 51.9 78.5 129.6 178.5" y="0" font-size="100">0.025</text>
<text transform="translate(1937.83 682.40) scale(0.5495 0.4770)" x="0.2" y="0" font-size="100">0</text>
<text transform="translate(2154.39 682.40) scale(0.5256 0.4770)" x="0.4" y="0" font-size="100">1</text>
<text transform="translate(2370.95 682.40) scale(0.5499 0.4770)" x="0.8" y="0" font-size="100">2</text>
<text transform="translate(2587.51 682.40) scale(0.5581 0.4770)" x="-0.6" y="0" font-size="100">3</text>
<text transform="translate(2804.07 682.40) scale(0.5285 0.4770)" x="0.9" y="0" font-size="100">4</text>
<text transform="translate(3020.63 682.40) scale(0.5499 0.4770)" x="-0.7" y="0" font-size="100">5</text>
<text transform="translate(1997.10 114.80) scale(0.5105 0.5050)" x="6.2 49.0 105.3" y="0" font-size="100">(b)</text>
<path d="M2621.4 108.3H2710.1" stroke="#d80606" stroke-width="3.2" stroke-linecap="round"/>
<path d="M2621.4 179.3H2710.1" stroke="#0606d8" stroke-width="3.2" stroke-linecap="round"/>
<text transform="translate(2728.70 124.80) scale(0.5534 0.4860)" x="2.8 80.7 133.3 178.2 212.2 242.9 289.6 328.8 375.9" y="0" font-size="100">One laser</text>
<text transform="translate(2728.70 194.90) scale(0.5466 0.4860)" x="6.0 74.0 146.9 197.3 231.9 263.1 310.4 350.1 397.7 435.3" y="0" font-size="100">Two lasers</text>
<text><tspan x="2441.79" y="754.00" font-size="45.32" font-style="italic" textLength="23.88" lengthAdjust="spacingAndGlyphs">k</tspan><tspan x="2472.50" y="765.90" font-size="70.15" textLength="20.53" lengthAdjust="spacingAndGlyphs">/</tspan><tspan x="2498.74" y="754.00" font-size="45.32" font-style="italic" textLength="24.50" lengthAdjust="spacingAndGlyphs">k</tspan><tspan x="2526.81" y="762.16" font-size="34.22" textLength="19.88" lengthAdjust="spacingAndGlyphs">0</tspan></text>
<text transform="translate(1755.60 462.00) rotate(-90) scale(0.5439 0.4860)" x="1.9 79.8 165.7 219.0 246.8 278.6 318.4 373.6 427.9" y="0" font-size="100">Amplitude</text>
</svg></body></html>
